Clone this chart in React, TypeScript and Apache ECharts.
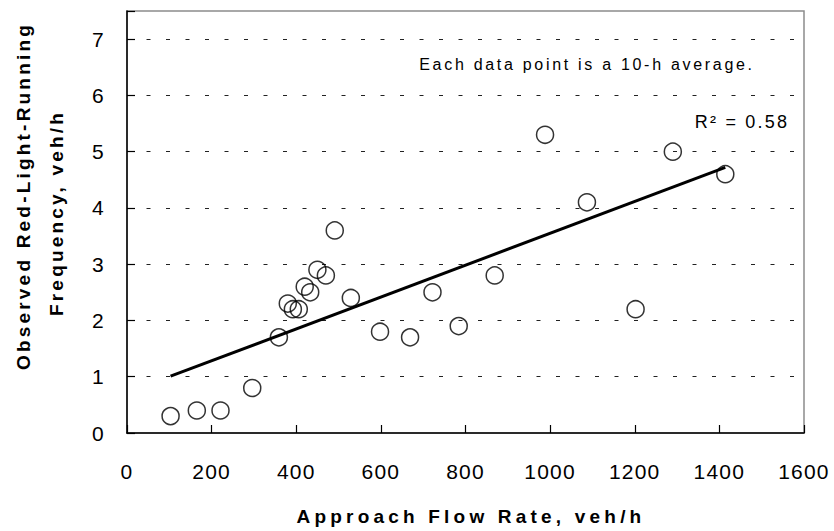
import React, { useEffect, useRef } from "react";
import * as echarts from "echarts";

const flowRate = [103, 165, 221, 296, 359, 380, 392, 406, 420, 433, 450, 470, 491, 529, 598, 669, 722, 784, 869, 988, 1087, 1202, 1290, 1414];
const frequency = [0.3, 0.4, 0.4, 0.8, 1.7, 2.3, 2.2, 2.2, 2.6, 2.5, 2.9, 2.8, 3.6, 2.4, 1.8, 1.7, 2.5, 1.9, 2.8, 5.3, 4.1, 2.2, 5.0, 4.6];

// Linear trend line end points
const trendFlow = [103, 1414];
const trendFreq = [1.01, 4.72];

const xAxisTitle = "Approach Flow Rate, veh/h";
const yAxisTitleLines = ["Observed Red-Light-Running", "Frequency, veh/h"];
const noteText = "Each data point is a 10-h average.";
const r2Text = "R² = 0.58";

const FONT = "'Liberation Sans', Arial, Helvetica, sans-serif";

function spacingFor(text: string): number {
  if (text === xAxisTitle) return 4.2;
  if (text === yAxisTitleLines[0] || text === yAxisTitleLines[1]) return 3.2;
  if (text === noteText) return 2.7;
  if (text === r2Text) return 2.2;
  if (/^\d+$/.test(text)) return 1.2;
  return 0;
}

export default function App() {
  const ref = useRef<HTMLDivElement>(null);

  useEffect(() => {
    if (!ref.current) return;
    const el = ref.current;
    const chart = echarts.init(el, null, { renderer: "svg" });
    const points = flowRate.map((x, i) => [x, frequency[i]]);
    const trend = trendFlow.map((x, i) => [x, trendFreq[i]]);

    const applySpacing = () => {
      el.querySelectorAll("text").forEach((t) => {
        const s = (t.textContent || "").trim();
        const ls = spacingFor(s);
        if (ls > 0) t.setAttribute("letter-spacing", ls + "px");
      });
    };

    chart.on("finished", applySpacing);

    chart.setOption({
      animation: false,
      backgroundColor: "#ffffff",
      grid: {
        left: 127,
        right: 30,
        top: 11,
        bottom: 98,
        show: true,
        borderColor: "#8c8c8c",
        borderWidth: 1.5,
        backgroundColor: "transparent",
      },
      xAxis: {
        type: "value",
        min: 0,
        max: 1600,
        interval: 200,
        axisLine: { show: true, onZero: false, lineStyle: { color: "#000", width: 1.5 } },
        axisTick: { show: true, inside: true, length: 8, lineStyle: { color: "#000", width: 1.2 } },
        axisLabel: {
          margin: 28,
          fontSize: 21,
          color: "#000",
          fontFamily: FONT,
          formatter: (v: number) => String(v),
        },
        splitLine: { show: false },
      },
      yAxis: {
        type: "value",
        min: 0,
        max: 7.5,
        interval: 1,
        axisLine: { show: true, onZero: false, lineStyle: { color: "#000", width: 1.5 } },
        axisTick: { show: true, inside: true, length: 8, lineStyle: { color: "#000", width: 1.2 } },
        axisLabel: {
          margin: 22,
          fontSize: 21,
          color: "#000",
          fontFamily: FONT,
          formatter: (v: number) => (Number.isInteger(v) ? String(v) : ""),
        },
        splitLine: {
          show: true,
          showMinLine: false,
          showMaxLine: false,
          lineStyle: { color: "#222", width: 1, type: [4, 15.5] },
        },
      },
      series: [
        {
          type: "line",
          data: trend,
          symbol: "none",
          lineStyle: { color: "#000", width: 3 },
          z: 2,
        },
        {
          type: "scatter",
          data: points,
          symbol: "circle",
          symbolSize: 17,
          itemStyle: { color: "rgba(0,0,0,0)", borderColor: "#000", borderWidth: 1.5 },
          z: 3,
        },
      ],
      graphic: [
        {
          type: "text",
          x: 471,
          y: 516,
          style: {
            text: xAxisTitle,
            fill: "#000",
            fontSize: 19,
            fontWeight: "bold",
            fontFamily: FONT,
            align: "center",
            verticalAlign: "middle",
          },
        },
        {
          type: "text",
          x: 23,
          y: 196,
          rotation: Math.PI / 2,
          style: {
            text: yAxisTitleLines[0],
            fill: "#000",
            fontSize: 19,
            fontWeight: "bold",
            fontFamily: FONT,
            align: "center",
            verticalAlign: "middle",
          },
        },
        {
          type: "text",
          x: 56,
          y: 213,
          rotation: Math.PI / 2,
          style: {
            text: yAxisTitleLines[1],
            fill: "#000",
            fontSize: 19,
            fontWeight: "bold",
            fontFamily: FONT,
            align: "center",
            verticalAlign: "middle",
          },
        },
        {
          type: "text",
          x: 587,
          y: 64,
          style: {
            text: noteText,
            fill: "#000",
            fontSize: 16,
            fontFamily: FONT,
            align: "center",
            verticalAlign: "middle",
          },
        },
        {
          type: "text",
          x: 742,
          y: 122,
          style: {
            text: r2Text,
            fill: "#000",
            fontSize: 18,
            fontFamily: FONT,
            align: "center",
            verticalAlign: "middle",
          },
        },
      ],
    });

    applySpacing();
    const raf = requestAnimationFrame(applySpacing);
    const tm = window.setTimeout(applySpacing, 50);

    return () => {
      cancelAnimationFrame(raf);
      window.clearTimeout(tm);
      chart.dispose();
    };
  }, []);

  return (
    <div
      ref={ref}
      style={{ position: "fixed", left: 0, top: 0, width: 834, height: 531 }}
    />
  );
}
